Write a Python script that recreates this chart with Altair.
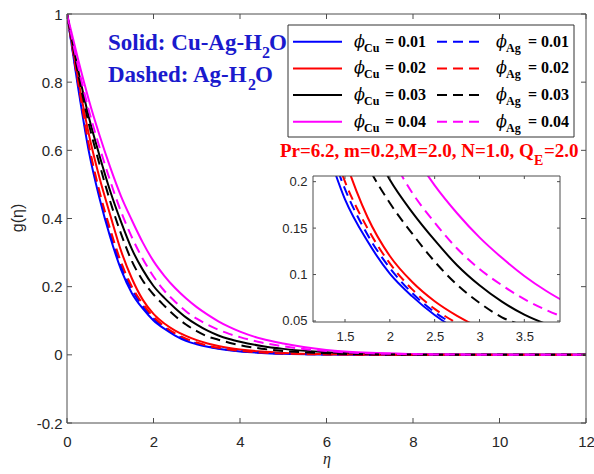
import altair as alt
import pandas as pd

# ---------------- velocity profiles g(eta) ----------------
ETA = [0, 0.25, 0.5, 0.75, 1.0, 1.25, 1.5, 1.75, 2.0, 2.25, 2.5, 2.75, 3.0,
       3.25, 3.5, 3.75, 4.0, 4.5, 5.0, 6.0, 7.0, 8.0, 9.0, 10.0, 12.0]

# Cu-Ag-H2O hybrid nanofluid (solid lines)
G_CU_01 = [1.0, 0.79, 0.60, 0.46, 0.345, 0.250, 0.181, 0.136, 0.101, 0.0765, 0.0565, 0.041, 0.031,
           0.0235, 0.0177, 0.0133, 0.010, 0.0056, 0.0031, 0.001, 0.0003, 0.0001, 0, 0, 0]
G_CU_02 = [1.0, 0.815, 0.65, 0.52, 0.41, 0.305, 0.224, 0.162, 0.120, 0.0920, 0.0713, 0.0556, 0.043,
           0.0335, 0.026, 0.0203, 0.0158, 0.0095, 0.0057, 0.002, 0.0007, 0.0002, 0.0001, 0, 0]
G_CU_03 = [1.0, 0.84, 0.70, 0.585, 0.48, 0.39, 0.31, 0.25, 0.202, 0.167, 0.137, 0.110, 0.0884,
           0.0708, 0.0568, 0.0465, 0.0385, 0.026, 0.0175, 0.0075, 0.003, 0.0012, 0.0005, 0.0002, 0]
G_CU_04 = [1.0, 0.87, 0.75, 0.645, 0.55, 0.465, 0.395, 0.33, 0.275, 0.232, 0.196, 0.166, 0.140,
           0.118, 0.0985, 0.082, 0.068, 0.047, 0.033, 0.0145, 0.006, 0.0025, 0.001, 0.0004, 0]

# Ag-H2O nanofluid (dashed lines)
G_AG_01 = [1.0, 0.80, 0.61, 0.47, 0.357, 0.260, 0.192, 0.143, 0.107, 0.080, 0.0595, 0.0447, 0.0335,
           0.025, 0.019, 0.0142, 0.0107, 0.006, 0.0034, 0.0011, 0.0004, 0.0001, 0, 0, 0]
G_AG_02 = [1.0, 0.805, 0.62, 0.48, 0.368, 0.272, 0.200, 0.150, 0.112, 0.084, 0.063, 0.0476, 0.036,
           0.027, 0.0205, 0.0155, 0.0117, 0.0066, 0.0037, 0.0012, 0.0004, 0.0001, 0, 0, 0]
G_AG_03 = [1.0, 0.83, 0.68, 0.56, 0.45, 0.355, 0.275, 0.218, 0.177, 0.144, 0.114, 0.089, 0.0695,
           0.054, 0.0445, 0.0356, 0.0285, 0.018, 0.0115, 0.0045, 0.0017, 0.0006, 0.0002, 0.0001, 0]
G_AG_04 = [1.0, 0.85, 0.72, 0.61, 0.51, 0.42, 0.345, 0.282, 0.230, 0.188, 0.156, 0.128, 0.106,
           0.0885, 0.0735, 0.0615, 0.052, 0.036, 0.025, 0.011, 0.0045, 0.0018, 0.0007, 0.0003, 0]

FRACTIONS = ["0.01", "0.02", "0.03", "0.04"]
COLORS = ["#0000ff", "#ff0000", "#000000", "#ff00ff"]
CU_PROFILES = [G_CU_01, G_CU_02, G_CU_03, G_CU_04]
AG_PROFILES = [G_AG_01, G_AG_02, G_AG_03, G_AG_04]

X_TICKS = [0, 2, 4, 6, 8, 10, 12]
Y_TICKS = [-0.2, 0, 0.2, 0.4, 0.6, 0.8, 1]
X_DOMAIN = [0, 12]
Y_DOMAIN = [-0.2, 1]
INSET_X_TICKS = [1.5, 2, 2.5, 3, 3.5]
INSET_Y_TICKS = [0.05, 0.1, 0.15, 0.2]
INSET_X_DOMAIN = [1.143, 3.898]
INSET_Y_DOMAIN = [0.0489, 0.2061]

# ---------------- layout ----------------
PAGE_W, PAGE_H = 594, 474
PAD_L, PAD_T, W, H = 67, 14, 519, 409
IN_X0, IN_X1, IN_Y0, IN_Y1 = 246, 493, 162, 308      # inset box inside the plot area
AXIS_GREY = "#4d4d4d"
LABEL_GREY = "#262626"
SANS = "Liberation Sans"
SERIF = "Liberation Serif"
GREEK = "DejaVu Serif"
DASH = [10, 6]
BLUE_TEXT = "#1a1acd"
RED_TEXT = "#ff0000"

rows = []
for nano, profiles in (("Cu", CU_PROFILES), ("Ag", AG_PROFILES)):
    for frac, prof in zip(FRACTIONS, profiles):
        for e, g in zip(ETA, prof):
            rows.append({"series": f"{nano}-{frac}", "eta": e, "g": g})
profiles_df = pd.DataFrame(rows)

SERIES = [(f"{n}-{f}", c, n == "Ag") for n in ("Cu", "Ag") for f, c in zip(FRACTIONS, COLORS)]

LABEL_EXPR = "replace(format(datum.value, '~g'), '\u2212', '-')"


def line_layer(key, color, dashed, xs, ys, xa, ya, extra=None):
    mark = dict(color=color, strokeWidth=2, interpolate="monotone", clip=True)
    if dashed:
        mark["strokeDash"] = DASH
    ch = alt.Chart(profiles_df).transform_filter(alt.datum.series == key)
    if extra is not None:
        ch = ch.transform_filter(extra)
    return ch.mark_line(**mark).encode(
        x=alt.X("eta:Q", scale=xs, axis=xa),
        y=alt.Y("g:Q", scale=ys, axis=ya),
    )


ANCHOR = pd.DataFrame({"n": [0]})


def text_at(txt, px, py, size, color="#000000", font=SERIF, weight="bold",
            style="normal", align="left", baseline="alphabetic", angle=0):
    return alt.Chart(ANCHOR).mark_text(
        text=txt, align=align, baseline=baseline, font=font, fontSize=size,
        fontWeight=weight, fontStyle=style, color=color, angle=angle,
    ).encode(x=alt.value(px - PAD_L), y=alt.value(py - PAD_T))


def box(x0, x1, y0, y1, fill="#ffffff", fill_opacity=1.0, stroke=None, width=1.0):
    mark = dict(fill=fill, fillOpacity=fill_opacity)
    if stroke is not None:
        mark["stroke"] = stroke
        mark["strokeWidth"] = width
    else:
        mark["strokeWidth"] = 0
    return alt.Chart(ANCHOR).mark_rect(**mark).encode(
        x=alt.value(x0), x2=alt.value(x1), y=alt.value(y0), y2=alt.value(y1))


def hline(x0, x1, y, color, dashed=False, width=2.0):
    mark = dict(color=color, strokeWidth=width)
    if dashed:
        mark["strokeDash"] = DASH
    return alt.Chart(ANCHOR).mark_rule(**mark).encode(
        x=alt.value(x0), x2=alt.value(x1), y=alt.value(y))


# ---------------- main axes and curves ----------------
x_main = alt.Scale(domain=X_DOMAIN, nice=False, zero=False)
y_main = alt.Scale(domain=Y_DOMAIN, nice=False, zero=False)
x_axis = alt.Axis(values=X_TICKS, title=None, ticks=False, domain=False, grid=False,
                  labelFont=SANS, labelFontSize=15, labelColor=LABEL_GREY, labelPadding=11,
                  labelFlush=False, labelOverlap=False, labelExpr=LABEL_EXPR)
y_axis = alt.Axis(values=Y_TICKS, title=None, ticks=False, domain=False, grid=False,
                  labelFont=SANS, labelFontSize=15, labelColor=LABEL_GREY, labelPadding=5,
                  labelFlush=False, labelOverlap=False, labelExpr=LABEL_EXPR)

main_group = alt.layer(*[line_layer(k, c, d, x_main, y_main, x_axis, y_axis) for k, c, d in SERIES])

# ---------------- inset (zoom of the same profiles) ----------------
x_in = alt.Scale(domain=INSET_X_DOMAIN, range=[IN_X0, IN_X1], nice=False, zero=False)
y_in = alt.Scale(domain=INSET_Y_DOMAIN, range=[IN_Y1, IN_Y0], nice=False, zero=False)
x_in_axis = alt.Axis(values=INSET_X_TICKS, orient="bottom", offset=IN_Y1 - H, title=None,
                     ticks=False, domain=False, grid=False, labelFont=SANS, labelFontSize=13,
                     labelColor=LABEL_GREY, labelPadding=8, labelFlush=False,
                     labelOverlap=False, labelExpr=LABEL_EXPR, zindex=1)
y_in_axis = alt.Axis(values=INSET_Y_TICKS, orient="left", offset=-IN_X0, title=None,
                     ticks=False, domain=False, grid=False, labelFont=SANS, labelFontSize=13,
                     labelColor=LABEL_GREY, labelPadding=6, labelFlush=False,
                     labelOverlap=False, labelExpr=LABEL_EXPR, zindex=1)

in_window = (alt.datum.eta >= 1.2) & (alt.datum.eta <= 4.0) & (alt.datum.g >= 0.03)
inset_lines = [line_layer(k, c, d, x_in, y_in, x_in_axis, y_in_axis, in_window) for k, c, d in SERIES]

ixt = pd.DataFrame({"v": INSET_X_TICKS})
iyt = pd.DataFrame({"v": INSET_Y_TICKS})
inset_ticks = [
    alt.Chart(ixt).mark_rule(color=AXIS_GREY, strokeWidth=1).encode(
        x=alt.X("v:Q", scale=x_in, axis=x_in_axis), y=alt.value(IN_Y1), y2=alt.value(IN_Y1 - 3)),
    alt.Chart(ixt).mark_rule(color=AXIS_GREY, strokeWidth=1).encode(
        x=alt.X("v:Q", scale=x_in, axis=x_in_axis), y=alt.value(IN_Y0), y2=alt.value(IN_Y0 + 3)),
    alt.Chart(iyt).mark_rule(color=AXIS_GREY, strokeWidth=1).encode(
        y=alt.Y("v:Q", scale=y_in, axis=y_in_axis), x=alt.value(IN_X0), x2=alt.value(IN_X0 + 3)),
    alt.Chart(iyt).mark_rule(color=AXIS_GREY, strokeWidth=1).encode(
        y=alt.Y("v:Q", scale=y_in, axis=y_in_axis), x=alt.value(IN_X1), x2=alt.value(IN_X1 - 3)),
]
# white margins that trim the zoomed curves to the inset window
inset_masks = [
    box(IN_X0, W, 0, IN_Y0),
    box(IN_X1, W, IN_Y0, IN_Y1 + 22),
    box(IN_X0, IN_X1, IN_Y1, IN_Y1 + 22),
]
inset_frame = box(IN_X0, IN_X1, IN_Y0, IN_Y1, fill_opacity=0, stroke=AXIS_GREY)
inset_group = alt.layer(*inset_lines, *inset_masks, inset_frame, *inset_ticks)

# ---------------- inward ticks of the main box ----------------
xt = pd.DataFrame({"v": X_TICKS})
yt = pd.DataFrame({"v": Y_TICKS})
main_ticks = alt.layer(
    alt.Chart(xt).mark_rule(color=AXIS_GREY, strokeWidth=1).encode(
        x=alt.X("v:Q", scale=x_main, axis=None), y=alt.value(H), y2=alt.value(H - 5)),
    alt.Chart(xt).mark_rule(color=AXIS_GREY, strokeWidth=1).encode(
        x=alt.X("v:Q", scale=x_main, axis=None), y=alt.value(0), y2=alt.value(5)),
    alt.Chart(yt).mark_rule(color=AXIS_GREY, strokeWidth=1).encode(
        y=alt.Y("v:Q", scale=y_main, axis=None), x=alt.value(0), x2=alt.value(5)),
    alt.Chart(yt).mark_rule(color=AXIS_GREY, strokeWidth=1).encode(
        y=alt.Y("v:Q", scale=y_main, axis=None), x=alt.value(W), x2=alt.value(W - 5)),
)

# ---------------- legend ----------------
LEG_ROW0, LEG_STEP = 41.7, 26.7
legend = [box(288 - PAD_L, 574 - PAD_L, 25 - PAD_T, 137 - PAD_T, stroke="#333333")]
for i, (frac, color) in enumerate(zip(FRACTIONS, COLORS)):
    ry = LEG_ROW0 + i * LEG_STEP
    legend += [
        hline(293 - PAD_L, 342 - PAD_L, ry - PAD_T, color),
        hline(437 - PAD_L, 482 - PAD_L, ry - PAD_T, color, dashed=True),
        text_at("\u03d5", 354, ry + 5, 16, font=GREEK, weight="normal", style="italic"),
        text_at("Cu", 364, ry + 10, 12),
        text_at("= " + frac, 385, ry + 5, 16),
        text_at("\u03d5", 496, ry + 5, 16, font=GREEK, weight="normal", style="italic"),
        text_at("Ag", 506, ry + 10, 12),
        text_at("= " + frac, 528, ry + 5, 16),
    ]

# ---------------- annotations ----------------
notes = [
    text_at("Solid: Cu-Ag-H", 108, 50, 23, BLUE_TEXT),
    text_at("2", 262, 58, 16, BLUE_TEXT),
    text_at("O", 269, 50, 23, BLUE_TEXT),
    text_at("Dashed: Ag-H", 108, 82, 23, BLUE_TEXT),
    text_at("2", 248, 90, 16, BLUE_TEXT),
    text_at("O", 255, 82, 23, BLUE_TEXT),
    text_at("Pr=6.2, m=0.2,M=2.0, N=1.0, Q", 280, 157, 19, RED_TEXT),
    text_at("E", 534, 165, 14, RED_TEXT),
    text_at("=2.0", 544, 157, 19, RED_TEXT),
    text_at("\u03b7", 327, 464, 16, LABEL_GREY, weight="normal", style="italic", align="center"),
    text_at("g(\u03b7)", 18, 218, 16, LABEL_GREY, font=SANS, weight="normal",
            align="center", baseline="middle", angle=270),
]

main_frame = box(0, W, 0, H, fill_opacity=0, stroke=AXIS_GREY)

chart = alt.layer(
    main_group, inset_group, main_ticks, *legend, *notes, main_frame
).resolve_scale(
    x="independent", y="independent"
).properties(
    width=W, height=H,
    autosize=alt.AutoSizeParams(type="none"),
    padding={"left": PAD_L, "top": PAD_T, "right": PAGE_W - PAD_L - W, "bottom": PAGE_H - PAD_T - H},
).configure_view(strokeWidth=0)

chart.save("out.html", embed_options={"renderer": "svg", "actions": False})
